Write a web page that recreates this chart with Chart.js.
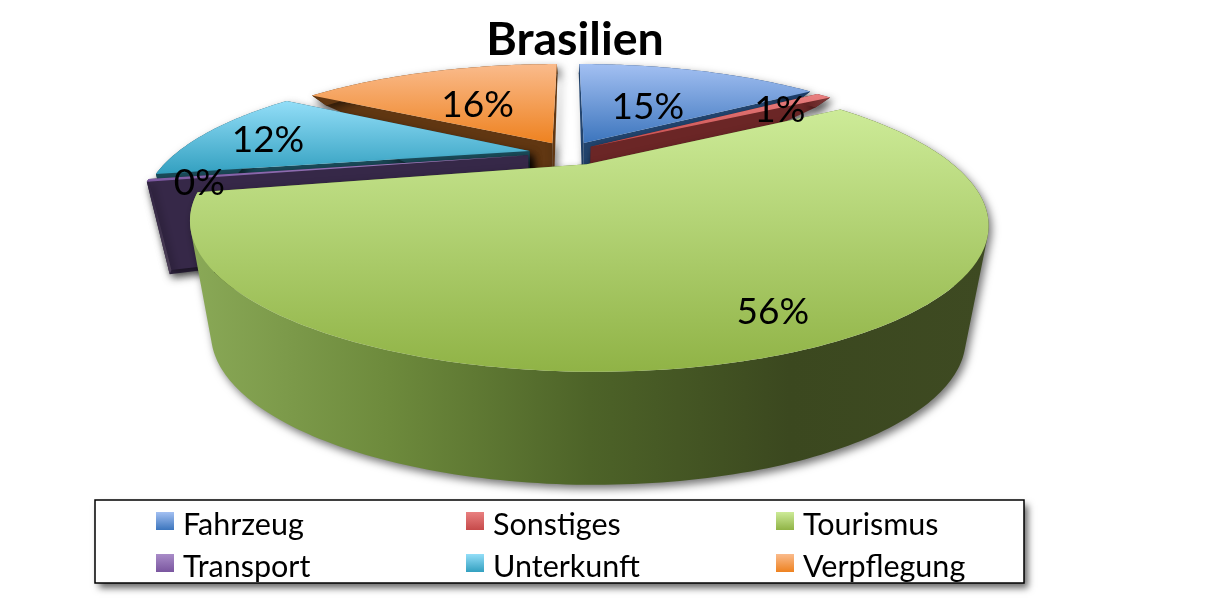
<!DOCTYPE html>
<html lang="de">
<head>
<meta charset="utf-8">
<title>Brasilien</title>
<script src="https://cdn.jsdelivr.net/npm/chart.js@4/dist/chart.umd.min.js"></script>
<style>
  html, body { margin: 0; padding: 0; background: #fff; }
  canvas { display: block; }
</style>
</head>
<body>
<canvas id="chart" width="1208" height="609"></canvas>
<script>
const categories = ['Fahrzeug', 'Sonstiges', 'Tourismus', 'Transport', 'Unterkunft', 'Verpflegung'];
const shares = [15.2, 0.9, 55.6, 0.3, 11.8, 16.2];

const topLight = ['#a3c0f2', '#e98080', '#cdeb98', '#a98cc8', '#93def8', '#fabb8c'];
const topDark = ['#3c75bd', '#c64a4a', '#90b346', '#7a569f', '#33a0c0', '#ee8220'];
const faceColors = ['#23456f', '#6b2626', '#4f662a', '#362848', '#1b4c5b', '#613712'];
const wallStops = [
  ['#1c3d68', '#1c3d68'],
  ['#5f1f1f', '#7f3a3a'],
  ['#8aa957', '#6d8a3c', '#4d6328', '#3b481f', '#3e4a22'],
  ['#2e2140', '#4e4159'],
  ['#1b4c5b', '#1b4c5b'],
  ['#613712', '#613712'],
];

// back slices first so the big one sits on top
const drawOrder = [0, 5, 4, 3, 1, 2];
const sliceShift = [-5, -11, 0, -10, -9, -4];
const labelNudge = [[-27, 19], [6, 1], [52, 39], [-79, 11], [-42, 3], [13, 16]];

const EXPLODE = 0.1;
const CX = 573, CY = 153, RX = 353, RY = 116, PERSP = 0.385, BASE_SHRINK = 0.945;

function project(u, v) {
  const w = 1 - PERSP * v;
  return { x: CX + (RX * u) / w, y: CY + (RY * v) / w };
}

// wall height is not constant, it grows towards the viewer
function wallHeight(v) {
  return Math.min(113, Math.max(10, 72 + 96 * v - 21 * v * v));
}

function basePoint(u, v) {
  const p = project(u, v);
  return { x: CX + (p.x - CX) * BASE_SHRINK, y: p.y + wallHeight(v) };
}

function tracePath(ctx, pts) {
  ctx.beginPath();
  pts.forEach((p, i) => (i ? ctx.lineTo(p.x, p.y) : ctx.moveTo(p.x, p.y)));
  ctx.closePath();
}

function sliceGround(arc) {
  const mid = (arc.startAngle + arc.endAngle) / 2;
  const ou = EXPLODE * Math.cos(mid);
  const ov = EXPLODE * Math.sin(mid);
  const steps = Math.max(6, Math.ceil((arc.endAngle - arc.startAngle) * 60));
  const rim = [];
  for (let s = 0; s <= steps; s++) {
    const a = arc.startAngle + ((arc.endAngle - arc.startAngle) * s) / steps;
    rim.push({ u: ou + Math.cos(a), v: ov + Math.sin(a) });
  }
  return { ou, ov, mid, rim };
}

// the wall is a strip of quads, all wound the same way so one fill covers the fold at the sides
function traceWall(ctx, rim) {
  ctx.beginPath();
  for (let s = 0; s < rim.length - 1; s++) {
    const q = [
      project(rim[s].u, rim[s].v),
      project(rim[s + 1].u, rim[s + 1].v),
      basePoint(rim[s + 1].u, rim[s + 1].v),
      basePoint(rim[s].u, rim[s].v),
    ];
    let area = 0;
    q.forEach((p, k) => {
      const n = q[(k + 1) % 4];
      area += p.x * n.y - n.x * p.y;
    });
    if (area < 0) q.reverse();
    q.forEach((p, k) => (k ? ctx.lineTo(p.x, p.y) : ctx.moveTo(p.x, p.y)));
    ctx.closePath();
  }
}

function drawSlice(ctx, arc, i) {
  const g = sliceGround(arc);
  const apex = { u: g.ou, v: g.ov };
  const first = g.rim[0];
  const last = g.rim[g.rim.length - 1];
  const top = (p) => project(p.u, p.v);
  const base = (p) => basePoint(p.u, p.v);

  ctx.save();
  ctx.translate(sliceShift[i], 0);

  ctx.save();
  ctx.shadowColor = 'rgba(0,0,0,0.55)';
  ctx.shadowBlur = 8;
  ctx.shadowOffsetX = 3;
  ctx.shadowOffsetY = 4;

  // cut faces
  ctx.fillStyle = faceColors[i];
  [first, last].forEach((end) => {
    tracePath(ctx, [top(apex), top(end), base(end), base(apex)]);
    ctx.fill();
  });

  // outer wall
  const xs = g.rim.map(top).concat(g.rim.map(base)).map((p) => p.x);
  const wall = ctx.createLinearGradient(Math.min(...xs), 0, Math.max(...xs), 0);
  wallStops[i].forEach((c, k) => wall.addColorStop(k / (wallStops[i].length - 1), c));
  ctx.fillStyle = wall;
  traceWall(ctx, g.rim);
  ctx.fill();
  ctx.restore();

  // top surface
  const topPts = [top(apex)].concat(g.rim.map(top));
  const ys = topPts.map((p) => p.y);
  const grad = ctx.createLinearGradient(0, Math.min(...ys), 0, Math.max(...ys));
  grad.addColorStop(0, topLight[i]);
  grad.addColorStop(1, topDark[i]);
  ctx.fillStyle = grad;
  tracePath(ctx, topPts);
  ctx.fill();
  ctx.restore();
}

function drawLabels(ctx, arcs, total) {
  ctx.font = '37px Lato';
  ctx.fillStyle = '#000';
  ctx.textAlign = 'center';
  ctx.textBaseline = 'middle';
  arcs.forEach((arc, i) => {
    const mid = (arc.startAngle + arc.endAngle) / 2;
    const p = project(0.8 * Math.cos(mid), 0.8 * Math.sin(mid));
    const text = Math.round((shares[i] / total) * 100) + '%';
    ctx.fillText(text, p.x + labelNudge[i][0], p.y + labelNudge[i][1]);
  });
}

function drawLegendBox(ctx) {
  const colX = [156, 466, 776];
  const rowY = [512, 554];
  ctx.save();
  ctx.shadowColor = 'rgba(0,0,0,0.6)';
  ctx.shadowBlur = 7;
  ctx.shadowOffsetX = 4;
  ctx.shadowOffsetY = 5;
  ctx.fillStyle = '#fff';
  ctx.fillRect(95, 500, 929, 83);
  ctx.restore();
  ctx.strokeStyle = '#000';
  ctx.lineWidth = 1.5;
  ctx.strokeRect(95, 500, 929, 83);

  ctx.font = '30.5px Lato';
  ctx.textAlign = 'left';
  ctx.textBaseline = 'alphabetic';
  categories.forEach((name, i) => {
    const x = colX[i % 3];
    const y = rowY[Math.floor(i / 3)];
    const g = ctx.createLinearGradient(0, y, 0, y + 18);
    g.addColorStop(0, topLight[i]);
    g.addColorStop(1, topDark[i]);
    ctx.fillStyle = g;
    ctx.fillRect(x, y, 18, 18);
    ctx.fillStyle = '#000';
    ctx.fillText(name, x + 27, y + 23);
  });
}

const piePerspective = {
  id: 'piePerspective',
  // the pie itself is projected below, skip the flat arcs
  beforeDatasetDraw() {
    return false;
  },
  afterDatasetsDraw(chart) {
    const ctx = chart.ctx;
    const arcs = chart.getDatasetMeta(0).data;
    const total = shares.reduce((a, b) => a + b, 0);
    drawOrder.forEach((i) => drawSlice(ctx, arcs[i], i));
    drawLabels(ctx, arcs, total);
    drawLegendBox(ctx);
  },
};

new Chart(document.getElementById('chart'), {
  type: 'pie',
  data: {
    labels: categories,
    datasets: [{ data: shares, backgroundColor: topDark, borderWidth: 0 }],
  },
  plugins: [piePerspective],
  options: {
    responsive: false,
    animation: false,
    layout: { padding: { right: 58, top: 12 } },
    plugins: {
      legend: { display: false },
      tooltip: { enabled: false },
      title: {
        display: true,
        text: 'Brasilien',
        color: '#000',
        font: { family: 'Lato', size: 46.5, weight: 'bold' },
        padding: 0,
      },
    },
  },
});
</script>
</body>
</html>
